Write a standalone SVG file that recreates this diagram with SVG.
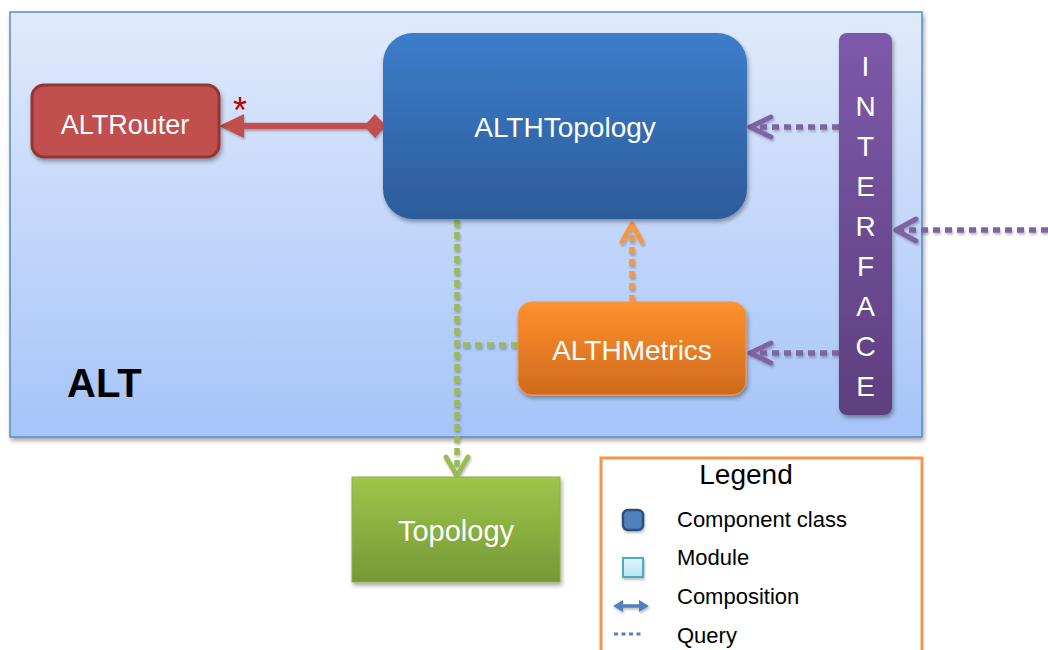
<svg xmlns="http://www.w3.org/2000/svg" width="1048" height="650" viewBox="0 0 1048 650">
  <defs>
    <linearGradient id="gAlt" x1="0" y1="0" x2="0" y2="1">
      <stop offset="0" stop-color="#e0eafb"/>
      <stop offset="1" stop-color="#a6c4fa"/>
    </linearGradient>
    <linearGradient id="gBlue" x1="0" y1="0" x2="0" y2="1">
      <stop offset="0" stop-color="#3c7dcb"/>
      <stop offset="1" stop-color="#2d5c9a"/>
    </linearGradient>
    <linearGradient id="gPurple" x1="0" y1="0" x2="0" y2="1">
      <stop offset="0" stop-color="#7d59aa"/>
      <stop offset="1" stop-color="#5e3f7f"/>
    </linearGradient>
    <linearGradient id="gOrange" x1="0" y1="0" x2="0" y2="1">
      <stop offset="0" stop-color="#fe912e"/>
      <stop offset="1" stop-color="#d06a1d"/>
    </linearGradient>
    <linearGradient id="gGreen" x1="0" y1="0" x2="0" y2="1">
      <stop offset="0" stop-color="#9dc64b"/>
      <stop offset="1" stop-color="#769836"/>
    </linearGradient>
    <linearGradient id="gModule" x1="0" y1="0" x2="0" y2="1">
      <stop offset="0" stop-color="#e2f6fc"/>
      <stop offset="1" stop-color="#b3e4f5"/>
    </linearGradient>
    <filter id="shadow" x="-20%" y="-20%" width="140%" height="150%">
      <feDropShadow dx="1.5" dy="3" stdDeviation="2" flood-color="#000" flood-opacity="0.35"/>
    </filter>
    <filter id="soft" x="-20%" y="-50%" width="140%" height="200%">
      <feDropShadow dx="1" dy="2" stdDeviation="1.2" flood-color="#000" flood-opacity="0.25"/>
    </filter>
  </defs>
  <style>
    .lbl { font-family: "Liberation Sans", Arial, sans-serif; fill: #ffffff; text-anchor: middle; }
    .leg { font-family: "Liberation Sans", Arial, sans-serif; fill: #000000; font-size: 22px; }
    .q-purple { fill: none; stroke: #8064a2; stroke-width: 5.5; stroke-dasharray: 7 5; }
    .chev-purple { fill: none; stroke: #8064a2; stroke-width: 5; stroke-linecap: round; stroke-linejoin: round; }
    .q-orange { fill: none; stroke: #f79646; stroke-width: 5.5; stroke-dasharray: 7 5; }
    .chev-orange { fill: none; stroke: #f79646; stroke-width: 5; stroke-linecap: round; stroke-linejoin: round; }
    .q-green { fill: none; stroke: #9bbb59; stroke-width: 5.5; stroke-dasharray: 7 5; }
    .chev-green { fill: none; stroke: #9bbb59; stroke-width: 5; stroke-linecap: round; stroke-linejoin: round; }
  </style>

  <!-- ALT container -->
  <g id="alt">
    <rect x="10" y="12" width="912" height="425" fill="url(#gAlt)" stroke="#5a8ac8" stroke-width="1.5" filter="url(#shadow)"/>
    <text x="67" y="397" font-family="'Liberation Sans', Arial, sans-serif" font-weight="bold" font-size="40" fill="#000">ALT</text>
  </g>

  <!-- connectors -->
  <g id="connectors">
    <!-- composition ALTHTopology -> ALTRouter -->
    <g filter="url(#soft)">
      <line x1="240" y1="126" x2="368" y2="126" stroke="#c0504d" stroke-width="6.5"/>
      <polygon points="219,126 244,114 244,138" fill="#c0504d"/>
      <polygon points="364,126 375,114 386,126 375,138" fill="#c0504d"/>
    </g>
    <text x="240" y="123" font-family="'Liberation Sans', Arial, sans-serif" font-size="36" fill="#c00000" text-anchor="middle">*</text>

    <!-- interface queries -->
    <g filter="url(#soft)">
      <line class="q-purple" x1="839" y1="127" x2="752" y2="127"/>
      <polyline class="chev-purple" points="771,117 750,127 771,137"/>
      <line class="q-purple" x1="1048" y1="230" x2="898" y2="230"/>
      <polyline class="chev-purple" points="916,219 896,230 916,241"/>
      <line class="q-purple" x1="839" y1="353" x2="752" y2="353"/>
      <polyline class="chev-purple" points="771,343 750,353 771,363"/>
    </g>

    <!-- metrics -> topology query -->
    <g filter="url(#soft)">
      <line class="q-orange" x1="632" y1="302" x2="632" y2="226"/>
      <polyline class="chev-orange" points="622,242 632,224 642,242"/>
    </g>

    <!-- external Topology queries -->
    <g filter="url(#soft)">
      <line class="q-green" x1="457" y1="220" x2="457" y2="474"/>
      <line class="q-green" x1="518" y1="345" x2="462" y2="345"/>
      <polyline class="chev-green" points="446,457 457,476 468,457"/>
    </g>
  </g>

  <!-- nodes -->
  <g id="altrouter">
    <rect x="32" y="85" width="187" height="72" rx="12" fill="#c0504d" stroke="#943634" stroke-width="3" filter="url(#shadow)"/>
    <text class="lbl" x="125" y="134" font-size="27">ALTRouter</text>
  </g>

  <g id="althtopology">
    <rect x="383" y="33" width="364" height="186" rx="30" fill="url(#gBlue)" filter="url(#shadow)"/>
    <text class="lbl" x="565" y="137" font-size="28">ALTHTopology</text>
  </g>

  <g id="interface">
    <rect x="839" y="33" width="53" height="382" rx="8" fill="url(#gPurple)" filter="url(#shadow)"/>
    <g class="lbl" font-size="28">
      <text x="865.5" y="76">I</text>
      <text x="865.5" y="116">N</text>
      <text x="865.5" y="156">T</text>
      <text x="865.5" y="196">E</text>
      <text x="865.5" y="236">R</text>
      <text x="865.5" y="276">F</text>
      <text x="865.5" y="316">A</text>
      <text x="865.5" y="356">C</text>
      <text x="865.5" y="396">E</text>
    </g>
  </g>

  <g id="althmetrics">
    <rect x="518" y="302" width="228" height="93" rx="14" fill="url(#gOrange)" stroke="#f79646" stroke-width="1" filter="url(#shadow)"/>
    <text class="lbl" x="632" y="360" font-size="28">ALTHMetrics</text>
  </g>

  <g id="topology">
    <rect x="352" y="477" width="208" height="105" fill="url(#gGreen)" stroke="#8cb04a" stroke-width="1" filter="url(#shadow)"/>
    <text class="lbl" x="456" y="541" font-size="29">Topology</text>
  </g>

  <!-- legend -->
  <g id="legend">
    <rect x="601" y="458" width="321" height="210" fill="#ffffff" stroke="#f79646" stroke-width="3"/>
    <text x="746" y="484" font-family="'Liberation Sans', Arial, sans-serif" font-size="28" text-anchor="middle" fill="#000">Legend</text>
    <rect x="623" y="510" width="20" height="20" rx="5" fill="#4f81bd" stroke="#2c4f7c" stroke-width="2.5" filter="url(#soft)"/>
    <text class="leg" x="677" y="527">Component class</text>
    <rect x="623" y="558" width="20" height="19" fill="url(#gModule)" stroke="#4bacc6" stroke-width="2" filter="url(#soft)"/>
    <text class="leg" x="677" y="565">Module</text>
    <g filter="url(#soft)">
      <line x1="620" y1="606" x2="642" y2="606" stroke="#4f81bd" stroke-width="3.5"/>
      <polygon points="613,606 623,600 623,612" fill="#4f81bd"/>
      <polygon points="649,606 639,600 639,612" fill="#4f81bd"/>
    </g>
    <text class="leg" x="677" y="604">Composition</text>
    <line x1="614" y1="634" x2="644" y2="634" stroke="#4f81bd" stroke-width="3" stroke-dasharray="4 3.5"/>
    <text class="leg" x="677" y="643">Query</text>
  </g>
</svg>
